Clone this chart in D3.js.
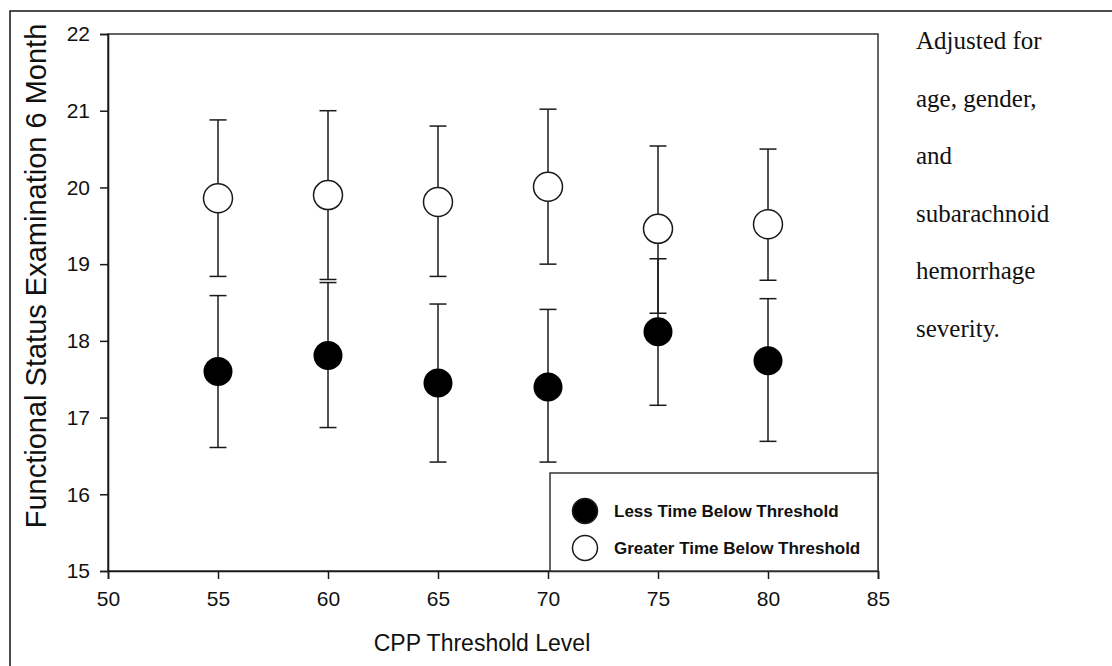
<!DOCTYPE html>
<html><head><meta charset="utf-8">
<script src="https://cdn.jsdelivr.net/npm/d3@7"></script>
<style>html,body{margin:0;padding:0;background:#fff;}</style>
</head><body>
<svg id="chart" width="1112" height="666"></svg>
<script>
const thresholds = [55, 60, 65, 70, 75, 80];
const lessMean  = [17.60, 17.81, 17.45, 17.40, 18.12, 17.74];
const lessUpper = [18.59, 18.76, 18.48, 18.41, 19.07, 18.55];
const lessLower = [16.61, 16.87, 16.42, 16.42, 17.16, 16.69];
const greaterMean  = [19.86, 19.90, 19.81, 20.01, 19.46, 19.52];
const greaterUpper = [20.88, 21.00, 20.80, 21.02, 20.54, 20.50];
const greaterLower = [18.84, 18.80, 18.84, 19.00, 18.36, 18.79];
const xTicks = [50, 55, 60, 65, 70, 75, 80, 85];
const yTicks = [15, 16, 17, 18, 19, 20, 21, 22];
const seriesNames = ["Less Time Below Threshold", "Greater Time Below Threshold"];
const noteLines = ["Adjusted for", "age, gender,", "and", "subarachnoid", "hemorrhage", "severity."];

const svg = d3.select("#chart");
const L = 108, R = 878, T = 34, B = 571;
const x = d3.scaleLinear().domain([50, 85]).range([L, R]);
const y = d3.scaleLinear().domain([15, 22]).range([B, T]);
const ink = "#1a1a1a";
const sans = "Arial, 'Liberation Sans', sans-serif";

// outer border
svg.append("rect").attr("x", 10).attr("y", 11).attr("width", 1200).attr("height", 800)
  .attr("fill", "none").attr("stroke", "#222").attr("stroke-width", 1.6);

// plot frame
svg.append("rect").attr("x", L).attr("y", T).attr("width", R - L).attr("height", B - T)
  .attr("fill", "none").attr("stroke", "#333").attr("stroke-width", 1.5);

// axes
const xAxis = svg.append("g").attr("transform", `translate(0,${B})`)
  .call(d3.axisBottom(x).tickValues(xTicks).tickSize(8).tickPadding(12).tickFormat(d3.format("d")));
const yAxis = svg.append("g").attr("transform", `translate(${L},0)`)
  .call(d3.axisLeft(y).tickValues(yTicks).tickSize(8).tickPadding(10).tickFormat(d3.format("d")));
[xAxis, yAxis].forEach(g => {
  g.select(".domain").attr("stroke", ink).attr("stroke-width", 1.6);
  g.selectAll(".tick line").attr("stroke", ink).attr("stroke-width", 1.5);
  g.selectAll(".tick text").attr("fill", "#111").style("font-family", sans).style("font-size", "21px");
});

// axis titles
svg.append("text").attr("x", 482).attr("y", 651).attr("text-anchor", "middle")
  .style("font-family", sans).style("font-size", "23px").attr("fill", "#111")
  .text("CPP Threshold Level");
svg.append("text").attr("transform", "translate(46,276) rotate(-90)").attr("text-anchor", "middle")
  .style("font-family", sans).style("font-size", "29px").attr("fill", "#111")
  .text("Functional Status Examination 6 Month");

// legend box
const legend = svg.append("g");
legend.append("rect").attr("x", 550).attr("y", 473).attr("width", R - 550).attr("height", B - 473)
  .attr("fill", "#fff").attr("stroke", "#333").attr("stroke-width", 1.5);

// error bars
function drawBars(upper, lower) {
  const g = svg.append("g");
  thresholds.forEach((t, i) => {
    const cx = x(t);
    g.append("line").attr("x1", cx).attr("x2", cx).attr("y1", y(upper[i])).attr("y2", y(lower[i]))
      .attr("stroke", ink).attr("stroke-width", 1.5);
    [upper[i], lower[i]].forEach(v => {
      g.append("line").attr("x1", cx - 8.5).attr("x2", cx + 8.5).attr("y1", y(v)).attr("y2", y(v))
        .attr("stroke", ink).attr("stroke-width", 1.5);
    });
  });
}
drawBars(lessUpper, lessLower);
drawBars(greaterUpper, greaterLower);
svg.append("g").selectAll("circle").data(thresholds).join("circle")
  .attr("cx", d => x(d)).attr("cy", (d, i) => y(greaterMean[i])).attr("r", 14.5)
  .attr("fill", "#fff").attr("stroke", ink).attr("stroke-width", 1.5);
svg.append("g").selectAll("circle").data(thresholds).join("circle")
  .attr("cx", d => x(d)).attr("cy", (d, i) => y(lessMean[i])).attr("r", 14.5)
  .attr("fill", "#000");

// legend entries
const legRows = [{name: seriesNames[0], fill: "#000", cy: 511}, {name: seriesNames[1], fill: "#fff", cy: 548}];
legRows.forEach(r => {
  legend.append("circle").attr("cx", 585).attr("cy", r.cy).attr("r", 12.5)
    .attr("fill", r.fill).attr("stroke", ink).attr("stroke-width", 1.5);
  legend.append("text").attr("x", 614).attr("y", r.cy + 6)
    .style("font-family", sans).style("font-size", "17px").style("font-weight", "bold")
    .attr("fill", "#111").text(r.name);
});

// side note
svg.append("g").selectAll("text").data(noteLines).join("text")
  .attr("x", 916).attr("y", (d, i) => 49 + i * 57.5)
  .style("font-family", "'Liberation Serif', 'Times New Roman', serif").style("font-size", "25px").attr("fill", "#111")
  .text(d => d);
</script>
</body></html>
